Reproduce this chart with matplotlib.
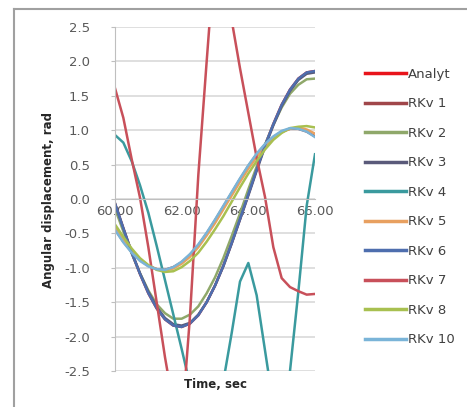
import matplotlib.pyplot as plt
from matplotlib.lines import Line2D
import numpy as np

# sample times, sec
time = [60.00, 60.25, 60.50, 60.75, 61.00, 61.25, 61.50, 61.75, 62.00,
        62.25, 62.50, 62.75, 63.00, 63.25, 63.50, 63.75, 64.00, 64.25,
        64.50, 64.75, 65.00, 65.25, 65.50, 65.75, 66.00]

analyt = [-0.07, -0.43, -0.78, -1.09, -1.37, -1.59, -1.75, -1.84, -1.86,
          -1.81, -1.69, -1.50, -1.26, -0.97, -0.64, -0.29, 0.07, 0.43,
          0.78, 1.09, 1.37, 1.59, 1.75, 1.84, 1.86]
rkv1 = [-0.44, -0.62, -0.77, -0.89, -0.97, -1.02, -1.03, -0.99, -0.92,
        -0.81, -0.67, -0.50, -0.31, -0.11, 0.09, 0.29, 0.48, 0.65,
        0.79, 0.90, 0.98, 1.02, 1.02, 0.98, 0.91]
rkv2 = [-0.14, -0.47, -0.79, -1.08, -1.33, -1.53, -1.66, -1.74, -1.74,
        -1.68, -1.56, -1.37, -1.14, -0.86, -0.54, -0.21, 0.14, 0.47,
        0.79, 1.08, 1.33, 1.53, 1.66, 1.74, 1.75]
rkv3 = [-0.06, -0.42, -0.77, -1.08, -1.35, -1.57, -1.73, -1.82, -1.84,
        -1.80, -1.68, -1.50, -1.26, -0.98, -0.65, -0.30, 0.05, 0.41,
        0.76, 1.07, 1.35, 1.57, 1.73, 1.82, 1.84]
rkv4 = [0.93, 0.82, 0.55, 0.20, -0.20, -0.68, -1.18, -1.68, -2.18,
        -2.70, -3.15, -3.40, -3.30, -2.65, -1.95, -1.20, -0.93, -1.40,
        -2.20, -3.00, -3.30, -2.50, -1.35, -0.10, 0.65]
rkv5 = [-0.42, -0.60, -0.76, -0.88, -0.97, -1.02, -1.04, -1.01, -0.94,
        -0.84, -0.70, -0.53, -0.35, -0.15, 0.05, 0.25, 0.44, 0.61,
        0.76, 0.88, 0.97, 1.02, 1.04, 1.01, 0.95]
rkv6 = [-0.07, -0.43, -0.78, -1.09, -1.37, -1.59, -1.75, -1.84, -1.86,
        -1.81, -1.69, -1.50, -1.26, -0.97, -0.64, -0.29, 0.07, 0.43,
        0.78, 1.09, 1.37, 1.59, 1.75, 1.84, 1.86]
rkv7 = [1.61, 1.18, 0.58, 0.02, -0.70, -1.50, -2.30, -3.00, -3.30,
        -1.70, 0.35, 2.00, 3.60, 3.90, 2.60, 1.90, 1.25, 0.60,
        0.03, -0.70, -1.15, -1.28, -1.34, -1.39, -1.38]
rkv8 = [-0.37, -0.55, -0.72, -0.86, -0.96, -1.03, -1.06, -1.05, -0.99,
        -0.90, -0.78, -0.62, -0.44, -0.25, -0.04, 0.17, 0.37, 0.55,
        0.72, 0.86, 0.96, 1.03, 1.05, 1.06, 1.04]
rkv10 = [-0.45, -0.63, -0.78, -0.90, -0.98, -1.02, -1.03, -0.99, -0.91,
         -0.80, -0.66, -0.49, -0.30, -0.10, 0.10, 0.30, 0.49, 0.66,
         0.80, 0.91, 0.99, 1.03, 1.02, 0.98, 0.90]

names = ["Analyt", "RKv 1", "RKv 2", "RKv 3", "RKv 4",
         "RKv 5", "RKv 6", "RKv 7", "RKv 8", "RKv 10"]
series = [analyt, rkv1, rkv2, rkv3, rkv4, rkv5, rkv6, rkv7, rkv8, rkv10]
colors = ["#E8141B", "#A0464A", "#8FA86A", "#5A5A7A", "#3A9A9E",
          "#E8A060", "#4E6EAE", "#C8505A", "#A8C050", "#7AB4D8"]

W, H = 467, 407
fig = plt.figure(figsize=(W / 100, H / 100), dpi=100)

ax = fig.add_axes([115 / W, 1 - 371 / H, 200 / W, 344 / H])
ax.patch.set_alpha(0)
for name, vals, c in zip(names, series, colors):
    ax.plot(time, vals, color=c, linewidth=1.8, label=name,
            solid_joinstyle="round")

# chart-area border, top and left edges, in figure coordinates
top = 1 - 8.5 / H
left = 14 / W
for xs, ys in [([left, 1.02], [top, top]), ([left, left], [-0.02, top])]:
    ax.add_line(Line2D(xs, ys, transform=fig.transFigure, clip_on=False,
                       color="#A0A0A0", linewidth=1.5))

ax.set_xlim(60, 66)
ax.set_ylim(-2.5, 2.5)
ax.set_yticks(np.arange(-2.5, 2.51, 0.5))
ax.set_yticklabels(["%.1f" % v for v in np.arange(-2.5, 2.51, 0.5)])
ax.set_xticks([60, 62, 64, 66])
ax.set_xticklabels(["60.00", "62.00", "64.00", "66.00"])
ax.grid(axis="y", color="#D9D9D9", linewidth=1.2)
ax.set_axisbelow(True)

for s in ["top", "right"]:
    ax.spines[s].set_visible(False)
ax.spines["left"].set_color("#BFBFBF")
ax.spines["bottom"].set_color("#BFBFBF")
ax.spines["bottom"].set_position(("data", 0))
ax.tick_params(axis="y", colors="#595959", labelsize=9.5, length=3,
               color="#BFBFBF", pad=15)
ax.tick_params(axis="x", colors="#595959", labelsize=9.5, length=0, pad=4)
for lab in ax.get_xticklabels() + ax.get_yticklabels():
    lab.set_color("#595959")

fig.text(49 / W, 1 - 200 / H, "Angular displacement, rad", rotation=90,
         ha="center", va="center", fontsize=8.5, fontweight="bold",
         color="#262626")
fig.text(215 / W, 1 - 385 / H, "Time, sec", ha="center", va="center",
         fontsize=8.5, fontweight="bold", color="#262626")

leg = fig.legend(handles=ax.get_lines()[:len(names)], loc="upper left",
                 bbox_to_anchor=(365 / W, 1 - 68 / H),
                 frameon=False, fontsize=9.5, handlelength=3.1,
                 handletextpad=0.15, labelspacing=1.25, borderpad=0,
                 borderaxespad=0, labelcolor="#404040")
for line in leg.get_lines():
    line.set_linewidth(2.5)

fig.savefig("out.png", dpi=100)
